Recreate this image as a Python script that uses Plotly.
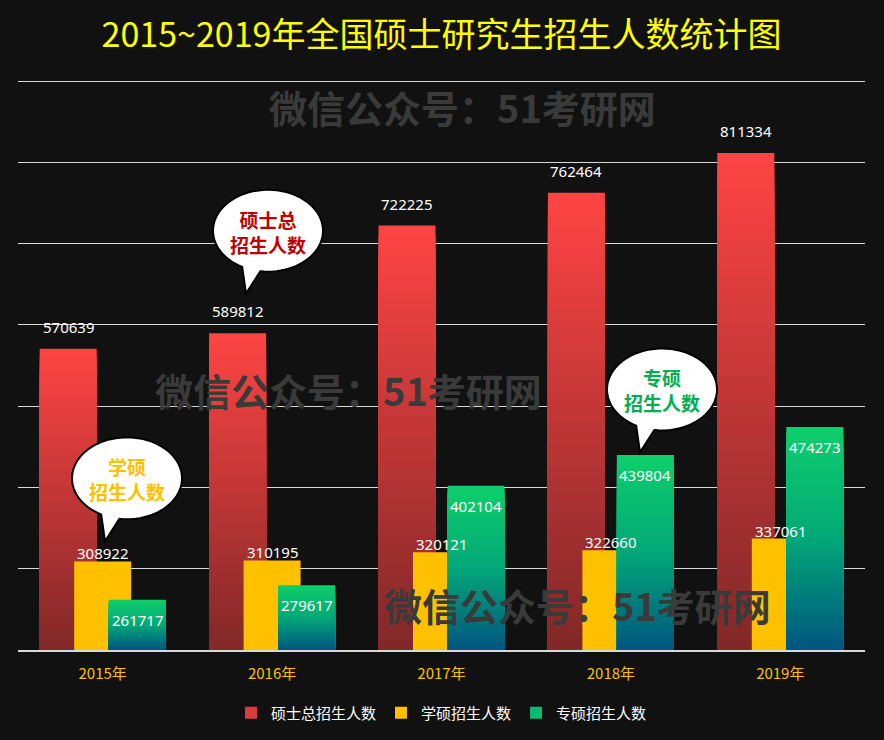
import math
import plotly.graph_objects as go

# ---------------- data ----------------
years = ["2015年", "2016年", "2017年", "2018年", "2019年"]
total = [570639, 589812, 722225, 762464, 811334]
academic = [308922, 310195, 320121, 322660, 337061]
professional = [261717, 279617, 402104, 439804, 474273]
series_names = ["硕士总招生人数", "学硕招生人数", "专硕招生人数"]
callouts = ["硕士总<br>招生人数", "学硕<br>招生人数", "专硕<br>招生人数"]
watermark = "微信公众号：51考研网"
title_text = "2015~2019年全国硕士研究生招生人数统计图"

AXIS_MIN, DTICK = 200000, 100000
AXIS_MAX = 902460   # a little headroom so the 900000 gridline is drawn

# ---------------- geometry ----------------
W, H = 884, 740
ML, MR, MT, MB = 18, 19, 79, 89
PW, PH = W - ML - MR, H - MT - MB
BG = "#111111"
FONT = "Noto Sans CJK SC"

BAR_W = 0.3365
SHIFT = 0.2037
NSLICE = 40


def px2paper(x, y):
    return (x - ML) / PW, (H - MB - y) / PH


def hex2rgb(h):
    h = h.lstrip("#")
    return tuple(int(h[i:i + 2], 16) for i in (0, 2, 4))


def interp(stops, t):
    for (p0, c0), (p1, c1) in zip(stops[:-1], stops[1:]):
        if p0 <= t <= p1:
            f = 0 if p1 == p0 else (t - p0) / (p1 - p0)
            a, b = hex2rgb(c0), hex2rgb(c1)
            return "rgb(%d,%d,%d)" % tuple(round(a[i] + (b[i] - a[i]) * f) for i in range(3))
    return stops[-1][1]


RED_STOPS = [(0, "#ff4444"), (1, "#812828")]          # top -> bottom
GREEN_STOPS = [(0, "#0ecf6b"), (0.5, "#03a878"), (1, "#005580")]
YELLOW = "#ffc000"

fig = go.Figure()


def add_gradient(values, name, stops, offset, legend_mid):
    # overlapping bars from the axis floor, tallest first, so no seams
    for k in range(NSLICE):
        frac = (NSLICE - k) / NSLICE
        t_top = 1 - frac
        color = interp(stops, t_top + 0.5 / NSLICE)
        fig.add_trace(go.Bar(
            x=years,
            y=[(v - AXIS_MIN) * frac for v in values],
            base=AXIS_MIN,
            width=BAR_W, offset=offset,
            marker=dict(color=color, line=dict(width=0)),
            name=name, legendgroup=name,
            showlegend=False, hoverinfo="skip",
        ))
    fig.add_trace(go.Bar(
        x=years, y=[0] * len(years), base=AXIS_MIN,
        width=BAR_W, offset=offset,
        marker=dict(color=legend_mid, line=dict(width=0)),
        name=name, legendgroup=name, showlegend=True, hoverinfo="skip",
    ))


add_gradient(total, series_names[0], RED_STOPS, -SHIFT - BAR_W / 2, interp(RED_STOPS, 0.3))
fig.add_trace(go.Bar(
    x=years, y=[v - AXIS_MIN for v in academic], base=AXIS_MIN,
    width=BAR_W, offset=-BAR_W / 2,
    marker=dict(color=YELLOW, line=dict(width=0)),
    name=series_names[1], hoverinfo="skip",
))
add_gradient(professional, series_names[2], GREEN_STOPS, SHIFT - BAR_W / 2, interp(GREEN_STOPS, 0.25))

annotations = []
cat_px = PW / len(years)
label_font = dict(family="Noto Sans", size=15, color="white")
for i, yr in enumerate(years):
    annotations.append(dict(x=yr, y=total[i], xref="x", yref="y", text=str(total[i]),
                            showarrow=False, xshift=-SHIFT * cat_px, yshift=22,
                            yanchor="middle", font=label_font))
    annotations.append(dict(x=yr, y=academic[i], xref="x", yref="y", text=str(academic[i]),
                            showarrow=False, xshift=0, yshift=8,
                            yanchor="middle", font=label_font))
    annotations.append(dict(x=yr, y=professional[i], xref="x", yref="y", text=str(professional[i]),
                            showarrow=False, xshift=SHIFT * cat_px, yshift=-20,
                            yanchor="middle", font=label_font))

# watermarks
for (cx, cy) in [(462, 107), (348, 390), (577, 605)]:
    px, py = px2paper(cx, cy)
    annotations.append(dict(x=px, y=py, xref="paper", yref="paper", text="<b>" + watermark + "</b>",
                            showarrow=False, xanchor="center", yanchor="middle",
                            font=dict(family=FONT, size=38, color="#3a3a3a")))

# speech bubbles
shapes = []
bubbles = [
    (268, 231, callouts[0], "#c00000"),
    (127, 479, callouts[1], "#ffc000"),
    (662, 390, callouts[2], "#00b050"),
]
RX, RY = 55, 41
for cx, cy, txt, col in bubbles:
    a_start = math.radians(118)
    a_end = math.radians(98)
    pts = []
    n = 80
    total_ang = 2 * math.pi - (a_start - a_end)
    for j in range(n + 1):
        a = a_start + total_ang * j / n
        pts.append((cx + RX * math.cos(a), cy + RY * math.sin(a)))
    pts.append((cx - 22, cy + 63))
    path = "M " + " L ".join("%.5f,%.5f" % px2paper(x, y) for x, y in pts) + " Z"
    shapes.append(dict(type="path", xref="paper", yref="paper", path=path,
                       fillcolor="white", line=dict(color="black", width=2), layer="above"))
    px, py = px2paper(cx, cy + 1)
    annotations.append(dict(x=px, y=py, xref="paper", yref="paper", text="<b>" + txt + "</b>",
                            showarrow=False, xanchor="center", yanchor="middle",
                            font=dict(family=FONT, size=19, color=col)))

fig.update_layout(
    width=W, height=H,
    paper_bgcolor=BG, plot_bgcolor=BG,
    margin=dict(l=ML, r=MR, t=MT, b=MB),
    barmode="overlay",
    title=dict(text=title_text, x=0.5, xanchor="center", xref="paper", y=1 - 35 / H, yanchor="middle",
               font=dict(family=FONT, size=34, color="#ffff00")),
    showlegend=True,
    legend=dict(orientation="h", x=0.5, xanchor="center", y=(H - MB - 713) / PH, yanchor="middle",
                font=dict(family=FONT, size=15, color="white"), bgcolor="rgba(0,0,0,0)",
                itemwidth=30, traceorder="normal"),
    xaxis=dict(showgrid=False, showline=True, linecolor="#d9d9d9", linewidth=1.5,
               ticks="outside", ticklen=9, tickcolor="rgba(0,0,0,0)",
               tickfont=dict(family=FONT, size=15, color="#ffc000"), fixedrange=True),
    yaxis=dict(range=[AXIS_MIN, AXIS_MAX], dtick=DTICK, tick0=0, showgrid=True,
               gridcolor="#d9d9d9", gridwidth=1, showticklabels=False, zeroline=False,
               showline=False, fixedrange=True),
    annotations=annotations,
    shapes=shapes,
)

fig.write_html("out.html", config={"displayModeBar": False},
               post_script="document.body.style.margin='0';document.body.style.background='%s';" % BG)
